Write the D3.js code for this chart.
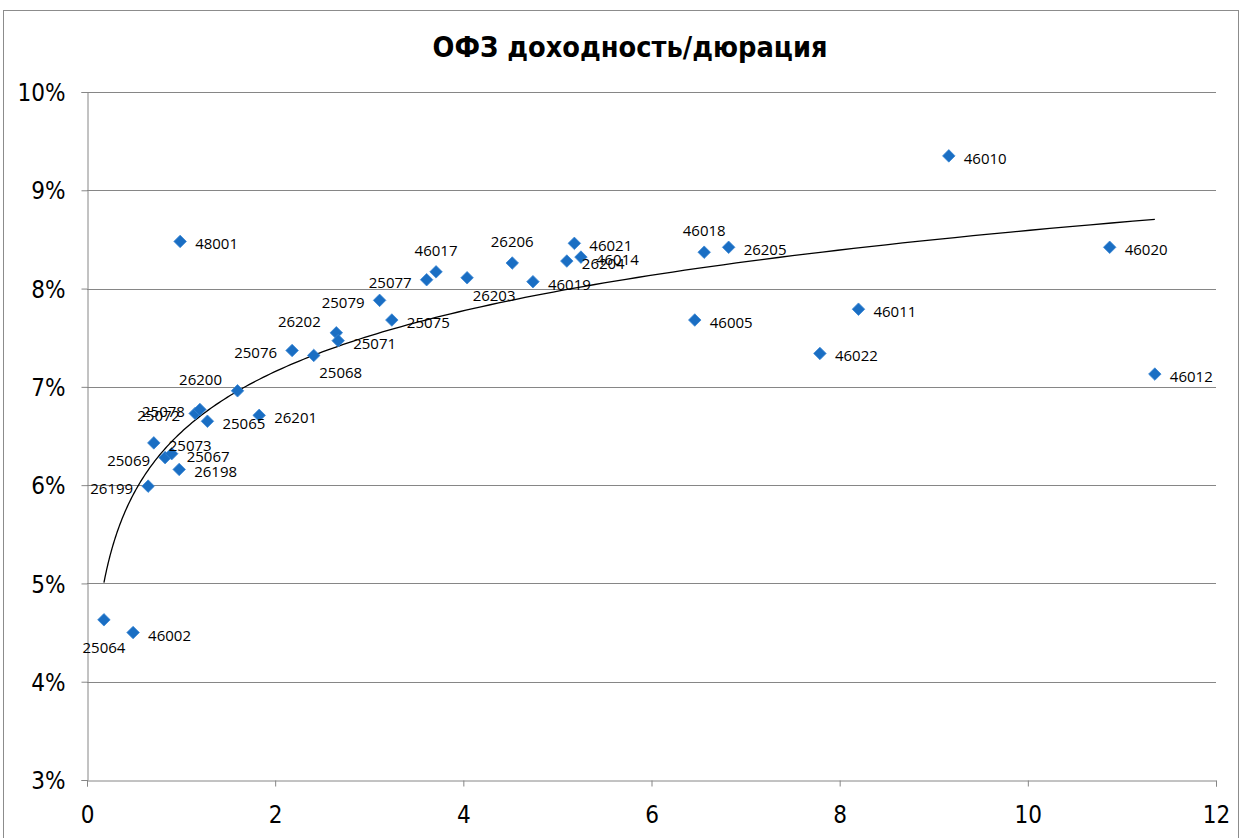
<!DOCTYPE html>
<html>
<head>
<meta charset="utf-8">
<script src="https://cdn.jsdelivr.net/npm/d3@7"></script>
<style>
  html, body { margin: 0; padding: 0; background: #fff; }
  svg { display: block; }
</style>
</head>
<body>
<svg id="chart" width="1243" height="838"></svg>
<script>
// ---- data ----
const bondNames = ["25064","46002","26199","25073","25069","25067","26198","25072","25078","25065",
  "26200","26201","25076","25068","26202","25071","25079","25075","25077","46017",
  "26203","26206","46019","26204","46021","46014","46018","26205","46005","46011",
  "46022","46010","46020","46012","48001"];
const durations = [0.18,0.49,0.65,0.71,0.83,0.90,0.98,1.15,1.20,1.28,
  1.60,1.83,2.18,2.41,2.65,2.67,3.11,3.24,3.61,3.71,
  4.04,4.52,4.74,5.10,5.18,5.25,6.56,6.82,6.46,8.20,
  7.79,9.16,10.87,11.35,0.99];
const yields = [4.63,4.50,5.99,6.43,6.28,6.32,6.16,6.73,6.77,6.65,
  6.96,6.71,7.37,7.32,7.55,7.47,7.88,7.68,8.09,8.17,
  8.11,8.26,8.07,8.28,8.46,8.32,8.37,8.42,7.68,7.79,
  7.34,9.35,8.42,7.13,8.48];
const labelSide = ["b","r","l","r","l","r","r","l","l","r",
  "tl","r","l","br","tl","r","l","r","l","t",
  "br","t","r","r","r","r","t","r","r","r",
  "r","r","r","r","r"];
const xTicks = [0,2,4,6,8,10,12];
const yTicks = [3,4,5,6,7,8,9,10];
const titleText = "ОФЗ доходность/дюрация";

// ---- layout ----
const svg = d3.select("#chart");
const plot = {left: 87, right: 1216, top: 92, bottom: 780};

const x = d3.scaleLinear().domain([0, 12]).range([plot.left, plot.right]);
const y = d3.scaleLinear().domain([3, 10]).range([plot.bottom, plot.top]);

// outer chart border
svg.append("rect").attr("x", 3.5).attr("y", 10.5).attr("width", 1235).attr("height", 840)
  .attr("fill", "#fff").attr("stroke", "#8c8c8c").attr("stroke-width", 1);

// title
svg.append("text").attr("x", 630).attr("y", 57).attr("text-anchor", "middle")
  .style("font-family", "'DejaVu Sans Condensed','Liberation Sans Narrow',sans-serif")
  .style("font-weight", "bold").style("font-size", "28px").attr("fill", "#000")
  .attr("textLength", 395).attr("lengthAdjust", "spacingAndGlyphs")
  .text(titleText);

// gridlines
svg.append("g").selectAll("line").data(yTicks.filter(d => d > 3)).join("line")
  .attr("x1", plot.left).attr("x2", plot.right)
  .attr("y1", d => Math.round(y(d)) + 0.5).attr("y2", d => Math.round(y(d)) + 0.5)
  .attr("stroke", "#868686").attr("stroke-width", 1);

// axes
const tickFont = "'DejaVu Sans Condensed','Liberation Sans Narrow',sans-serif";
const yAxis = svg.append("g").attr("transform", `translate(${plot.left + 0.5},0)`)
  .call(d3.axisLeft(y).tickValues(yTicks).tickFormat(d => d + "%").tickSize(6).tickPadding(16));
const xAxis = svg.append("g").attr("transform", `translate(0,${plot.bottom + 0.5})`)
  .call(d3.axisBottom(x).tickValues(xTicks).tickFormat(d3.format("d")).tickSize(6).tickPadding(19));
[yAxis, xAxis].forEach(g => {
  g.select(".domain").attr("stroke", "#868686");
  g.selectAll(".tick line").attr("stroke", "#868686");
  g.selectAll(".tick text").style("font-family", tickFont).style("font-size", "24px").attr("fill", "#000");
});
yAxis.selectAll(".tick text").attr("dy", "0.36em");

// trendline: logarithmic least-squares fit y = a + b ln(x)
const lx = durations.map(Math.log);
const mx = d3.mean(lx), my = d3.mean(yields);
const b = d3.sum(lx.map((v, i) => (v - mx) * (yields[i] - my))) / d3.sum(lx.map(v => (v - mx) ** 2));
const a = my - b * mx;
const xmin = d3.min(durations), xmax = d3.max(durations);
const trendX = d3.range(0, 201).map(i => xmin * Math.pow(xmax / xmin, i / 200));
svg.append("path").datum(trendX)
  .attr("d", d3.line().x(d => x(d)).y(d => y(a + b * Math.log(d))))
  .attr("fill", "none").attr("stroke", "#000").attr("stroke-width", 1.3);

// markers
const pts = durations.map((d, i) => ({x: d, y: yields[i], name: bondNames[i], side: labelSide[i]}));
const diamond = d3.symbol().type(d3.symbolDiamond2).size(100);
svg.append("g").selectAll("path").data(pts).join("path")
  .attr("transform", d => `translate(${x(d.x)},${y(d.y)})`)
  .attr("d", diamond)
  .attr("fill", "#1a6ec3").attr("stroke", "#3a86d4").attr("stroke-width", 0.8);

// data labels
const off = {
  r: {dx: 15, dy: 2, anchor: "start"},
  l: {dx: -15, dy: 2, anchor: "end"},
  t: {dx: 0, dy: -22, anchor: "middle"},
  b: {dx: 0, dy: 27, anchor: "middle"},
  tl: {dx: -37, dy: -12, anchor: "middle"},
  br: {dx: 27, dy: 17, anchor: "middle"}
};
svg.append("g").selectAll("text").data(pts).join("text")
  .attr("x", d => x(d.x) + off[d.side].dx)
  .attr("y", d => y(d.y) + off[d.side].dy)
  .attr("text-anchor", d => off[d.side].anchor)
  .attr("dominant-baseline", "central")
  .style("font-family", "'Open Sans',sans-serif").style("font-size", "15px")
  .attr("fill", "#000")
  .text(d => d.name);
</script>
</body>
</html>
